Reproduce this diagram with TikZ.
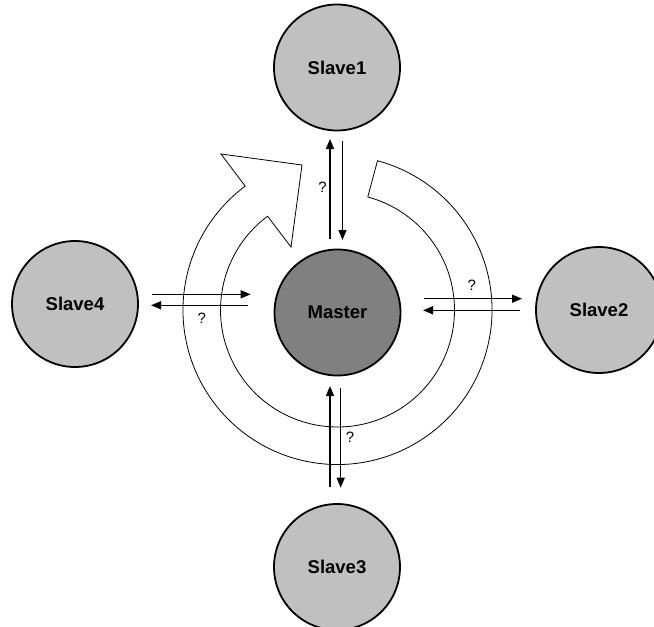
\documentclass[tikz,border=0pt]{standalone}
\usepackage{fontspec}
\setmainfont{Liberation Sans}
\usetikzlibrary{arrows.meta}
\definecolor{slavegray}{HTML}{C0C0C0}
\definecolor{mastergray}{HTML}{808080}
\begin{document}
\begin{tikzpicture}[x=1pt,y=-1pt,
  station/.style={circle, draw=black, line width=1.8pt, minimum size=126pt, inner sep=0pt,
    font=\bfseries\fontsize{18.5}{20}\selectfont},
  slave/.style={station, fill=slavegray},
  master/.style={station, fill=mastergray},
  link/.style={line width=1.4pt, -{Triangle[length=10pt,width=8pt]}},
  qlabel/.style={font=\fontsize{15}{16}\selectfont, inner sep=0pt},
  ring/.style={draw=black, line width=0.8pt, fill=white}]
\useasboundingbox (0,0) rectangle (654,627);
\clip (0,0) rectangle (654,627);

% circular arrow
\begin{scope}[shift={(337.5,310)}, yscale=-1]
  \draw[ring] (75:154.5) arc[start angle=75, end angle=-233.3, radius=154.5]
    -- (-116.5,156) -- (-35.5,145) -- (-46.5,63)
    -- (-233.3:117) arc[start angle=-233.3, end angle=75, radius=117] -- cycle;
\end{scope}

% stations
\node[master] (M) at (337.5,312.5) {Master};
\node[slave] (S1) at (337,67.5) {Slave1};
\node[slave] (S2) at (599,310) {Slave2};
\node[slave] (S3) at (337,567) {Slave3};
\node[slave] (S4) at (75,304) {Slave4};

% connector end points
\coordinate (a1s) at (330,239);   \coordinate (a1e) at (330,139);
\coordinate (b1s) at (342.5,140.5); \coordinate (b1e) at (342.5,240);
\coordinate (a4s) at (151.7,294.3); \coordinate (a4e) at (250.7,294.3);
\coordinate (b4s) at (248,305.3); \coordinate (b4e) at (151,305.3);
\coordinate (a2s) at (424,298.7); \coordinate (a2e) at (522,298.7);
\coordinate (b2s) at (520,310.3); \coordinate (b2e) at (423,310.3);
\coordinate (a3s) at (330,486.7); \coordinate (a3e) at (330,386);
\coordinate (b3s) at (340.7,387.7); \coordinate (b3e) at (340.7,487.7);

\draw[link] (a1s) -- (a1e);
\draw[link] (b1s) -- (b1e);
\draw[link] (a4s) -- (a4e);
\draw[link] (b4s) -- (b4e);
\draw[link] (a2s) -- (a2e);
\draw[link] (b2s) -- (b2e);
\draw[link] (a3s) -- (a3e);
\draw[link] (b3s) -- (b3e);

% labels
\node[qlabel] (q1) at (322.5,187) {?};
\node[qlabel] (q4) at (201.7,318) {?};
\node[qlabel] (q2) at (471.7,285) {?};
\node[qlabel] (q3) at (350,437) {?};
\end{tikzpicture}
\end{document}
